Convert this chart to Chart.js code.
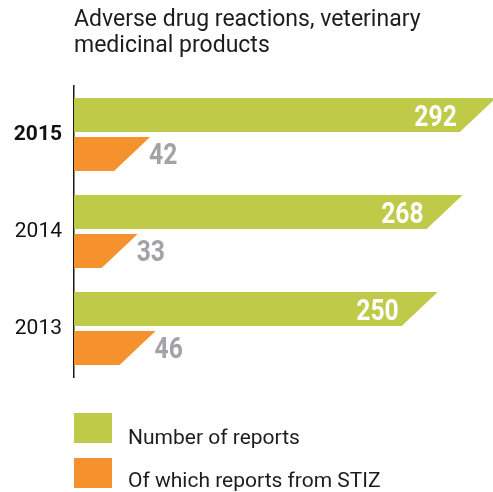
<!DOCTYPE html>
<html><head><meta charset="utf-8">
<script src="https://cdn.jsdelivr.net/npm/chart.js@4/dist/chart.umd.min.js"></script>
<style>
html,body{margin:0;padding:0;background:#fff;}
#wrap{position:relative;width:493px;height:492px;overflow:hidden;}
#c{position:absolute;left:0;top:0;}
.t{position:absolute;font-family:Roboto,sans-serif;color:#1d1d1b;white-space:nowrap;}
.sw{position:absolute;width:38px;height:30px;}
</style></head><body>
<div id="wrap">
<canvas id="c" width="493" height="492"></canvas>
<div class="t" id="title" style="left:74px;top:6px;font-size:23px;line-height:26px;"></div>
<div id="legend"></div>
</div>
<script>
const titleLines = ['Adverse drug reactions, veterinary', 'medicinal products'];
const categories = ['2015', '2014', '2013'];
const seriesNames = ['Number of reports', 'Of which reports from STIZ'];
const totalReports = [292, 268, 250];
const stizReports = [42, 33, 46];
const highlightCategory = '2015';

const GREEN = '#bfca48';
const ORANGE = '#f6922e';
const GREY = '#a2a2a7';

document.getElementById('title').innerHTML = titleLines.join('<br>');
const legendEl = document.getElementById('legend');
[GREEN, ORANGE].forEach((col, i) => {
  const sw = document.createElement('div');
  sw.className = 'sw';
  sw.style.left = '74px';
  sw.style.top = (413 + i * 45) + 'px';
  sw.style.background = col;
  legendEl.appendChild(sw);
  const tx = document.createElement('div');
  tx.className = 't';
  tx.style.left = '128px';
  tx.style.top = (425 + i * 43) + 'px';
  tx.style.fontSize = '21px';
  tx.style.lineHeight = '24px';
  tx.textContent = seriesNames[i];
  legendEl.appendChild(tx);
});

const SLANT = 36;

const slantBars = {
  id: 'slantBars',
  beforeDatasetDraw(chart, args) {
    const ctx = chart.ctx;
    const ds = chart.data.datasets[args.index];
    ctx.save();
    ctx.fillStyle = ds.backgroundColor;
    args.meta.data.forEach(el => {
      const p = el.getProps(['x', 'y', 'base', 'height'], true);
      const top = p.y - p.height / 2, bot = p.y + p.height / 2;
      ctx.beginPath();
      ctx.moveTo(p.base, top);
      ctx.lineTo(p.x + SLANT / 2, top);
      ctx.lineTo(p.x - SLANT / 2, bot);
      ctx.lineTo(p.base, bot);
      ctx.closePath();
      ctx.fill();
    });
    ctx.restore();
    return false;
  },
  afterDatasetsDraw(chart) {
    const ctx = chart.ctx;
    chart.data.datasets.forEach((ds, di) => {
      const meta = chart.getDatasetMeta(di);
      meta.data.forEach((el, i) => {
        const p = el.getProps(['x', 'y'], true);
        ctx.save();
        ctx.font = 'bold 29px Roboto, sans-serif';
        ctx.textBaseline = 'alphabetic';
        if (di === 0) {
          ctx.translate(p.x - SLANT / 2 - 3, p.y + 10.5);
          ctx.textAlign = 'right';
          ctx.fillStyle = '#ffffff';
        } else {
          ctx.translate(p.x + SLANT / 2 - 1, p.y + 10.5);
          ctx.textAlign = 'left';
          ctx.fillStyle = GREY;
        }
        ctx.scale(0.85, 1);
        ctx.fillText(String(ds.data[i]), 0, 0);
        ctx.restore();
      });
    });
  }
};

new Chart(document.getElementById('c'), {
  type: 'bar',
  data: {
    labels: categories,
    datasets: [
      { label: seriesNames[0], data: totalReports, backgroundColor: GREEN, barPercentage: 0.872, categoryPercentage: 0.804 },
      { label: seriesNames[1], data: stizReports, backgroundColor: ORANGE, barPercentage: 0.872, categoryPercentage: 0.804 }
    ]
  },
  options: {
    indexAxis: 'y',
    responsive: false,
    animation: false,
    devicePixelRatio: 1,
    layout: { padding: { top: 86, bottom: 115, left: 0, right: 0 } },
    plugins: { legend: { display: false }, tooltip: { enabled: false }, title: { display: false } },
    scales: {
      x: { display: false, min: 0, max: 303 },
      y: {
        grid: { display: false, drawTicks: false },
        border: { display: true, color: '#1a1a1a', width: 1.5 },
        ticks: {
          padding: 12,
          color: '#111111',
          font: (c) => ({ family: 'Roboto', size: 21, weight: categories[c.index] === highlightCategory ? 'bold' : 'normal' })
        },
        afterFit(axis) { axis.width = 74; }
      }
    }
  },
  plugins: [slantBars]
});
</script>
</body></html>
